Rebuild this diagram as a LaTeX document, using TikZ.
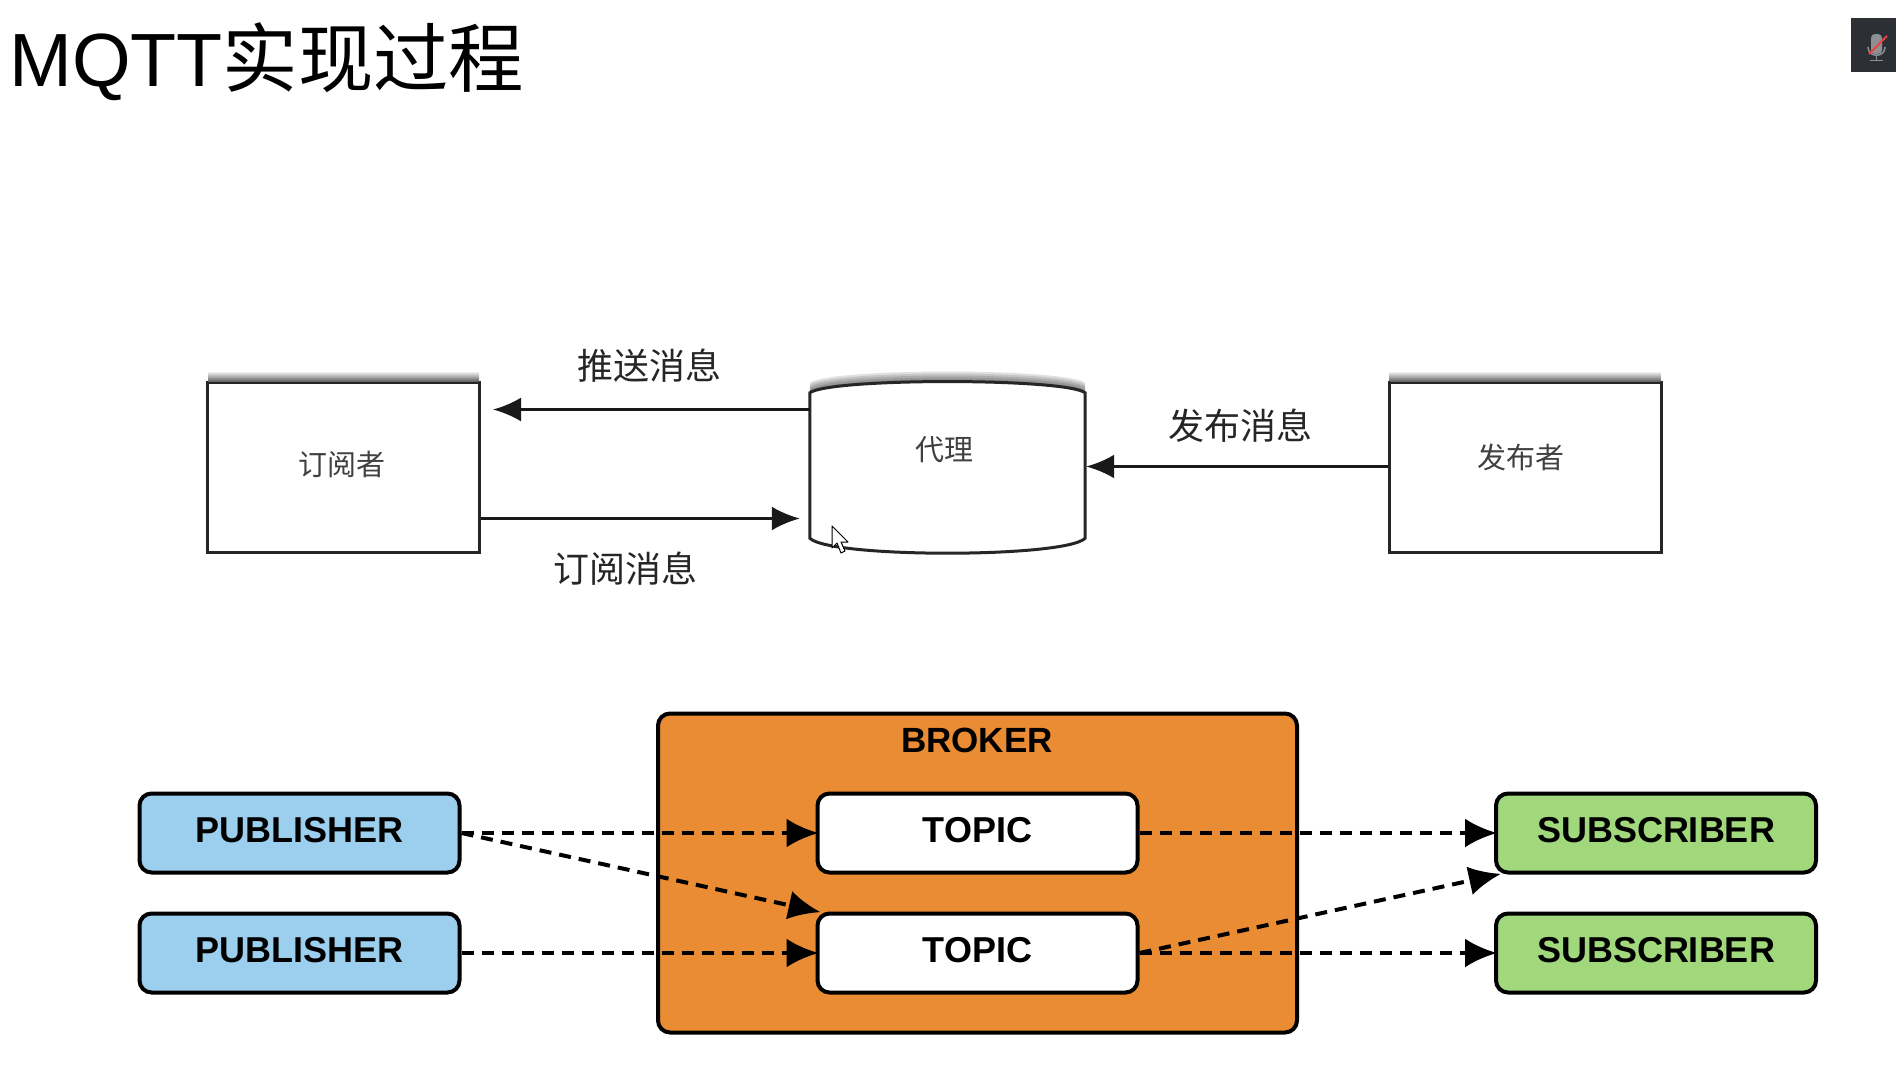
\documentclass[tikz,border=0pt]{standalone}
\usepackage{fontspec}
\setmainfont{Liberation Sans}
\newfontfamily\cjk{Noto Sans CJK SC}
\usetikzlibrary{arrows.meta, positioning}

\definecolor{brokerorange}{HTML}{E98C33}
\definecolor{pubblue}{HTML}{9CCFEE}
\definecolor{subgreen}{HTML}{A1D87C}
\definecolor{micdark}{HTML}{2C3034}
\definecolor{micgrey}{HTML}{8C9094}
\definecolor{micred}{HTML}{F04040}

\tikzset{
    plainbox/.style={draw=black!85, line width=3pt, fill=white, minimum width=272pt, minimum height=170pt, inner sep=0pt},
    zhlabel/.style={font=\cjk\fontsize{36}{40}\selectfont, text=black!85, inner sep=0pt},
    zhsmall/.style={font=\cjk\fontsize{29}{32}\selectfont, text=black!75, inner sep=0pt},
    solidarrow/.style={line width=3pt, draw=black!90, -{Latex[length=28pt,width=24pt]}},
    dasharrow/.style={line width=4pt, dash pattern=on 12pt off 8pt, shorten >=-3pt, -{Latex[length=32pt,width=29pt]}},
    roundbox/.style={draw=black, line width=4pt, rounded corners=12pt, minimum width=320pt, minimum height=79pt, inner sep=0pt, font=\fontsize{36}{40}\selectfont\bfseries},
    topshadow/.style={top color=white, bottom color=black!60, draw=none},
}

\begin{document}
\begin{tikzpicture}[x=1pt, y=-1pt]
    \useasboundingbox (0,0) rectangle (1896,1084);

    \node[anchor=base west, inner sep=0pt, font=\fontsize{75.4}{80}\selectfont] (title) at (9,86) {MQTT{\cjk 实现过程}};

    % mic icon
    \fill[micdark] (1851,18) rectangle (1896,72);
    \fill[micgrey, rounded corners=4pt] (1871,34) rectangle (1882,54);
    \draw[micgrey, line width=1.5pt] (1868,47) .. controls (1868,58) and (1885,58) .. (1885,47);
    \draw[micgrey, line width=1.5pt] (1876.5,56) -- (1876.5,60) (1870,60.5) -- (1883,60.5);
    \draw[micred, line width=1.8pt] (1869,54) -- (1887,36);

    % top diagram
    \node[plainbox] (subbox) at (343.5,467.5) {};
    \node[plainbox] (pubbox) at (1525,467.5) {};
    \node[minimum width=275pt, minimum height=171pt, inner sep=0pt] (proxy) at (947.5,467.5) {};

    \shade[topshadow] ([xshift=2pt,yshift=10pt]subbox.north west) rectangle ([xshift=-2pt]subbox.north east);
    \shade[topshadow] ([xshift=2pt,yshift=10pt]pubbox.north west) rectangle ([xshift=-2pt]pubbox.north east);
    \foreach \d in {2,4,...,10} {
        \fill[black, opacity=.12] ([yshift=-11pt+\d pt]proxy.north west) .. controls ([xshift=20pt,yshift=4pt+\d pt]proxy.north west) and ([xshift=-20pt,yshift=4pt+\d pt]proxy.north east) .. ([yshift=-11pt+\d pt]proxy.north east) -- ([yshift=-20pt]proxy.north east) -- ([yshift=-20pt]proxy.north west) -- cycle;
    }
    \draw[draw=black!85, line width=3pt, fill=white] ([yshift=-11pt]proxy.north west) .. controls ([xshift=20pt,yshift=4pt]proxy.north west) and ([xshift=-20pt,yshift=4pt]proxy.north east) .. ([yshift=-11pt]proxy.north east) -- ([yshift=15pt]proxy.south east) .. controls ([xshift=-20pt,yshift=-5pt]proxy.south east) and ([xshift=20pt,yshift=-5pt]proxy.south west) .. ([yshift=15pt]proxy.south west) -- cycle;

    \node[zhsmall] (sublabel) at (342,464) {订阅者};
    \node[zhsmall] (proxylabel) at (944,450) {代理};
    \node[zhsmall] (publabel) at (1521,457) {发布者};
    \node[zhlabel] (pushlabel) at (649,366) {推送消息};
    \node[zhlabel] (sublinelabel) at (625,569) {订阅消息};
    \node[zhlabel] (publinelabel) at (1240,426) {发布消息};

    \draw[solidarrow, shorten >=12pt] ([yshift=58pt]proxy.west) -- ([yshift=58pt]subbox.east);
    \draw[solidarrow, shorten >=10pt] ([yshift=-51pt]subbox.east) -- ([yshift=-51pt]proxy.west);
    \draw[solidarrow, shorten >=1pt] ([yshift=1pt]pubbox.west) -- ([yshift=1pt]proxy.east);

    % cursor
    \draw[black, fill=white, line width=1pt, line join=round] (832,526) -- (832,548) -- (837,543) -- (841,553) -- (845,551) -- (841,542) -- (848,542) -- cycle;

    % bottom diagram
    \node[roundbox, fill=brokerorange, minimum width=639pt, minimum height=319pt] (broker) at (977.5,873) {};
    \node[font=\fontsize{35}{38}\selectfont\bfseries, inner sep=0pt] (brokerlabel) at (977,740) {BROKER};

    \node[roundbox, fill=white] (topicone) at (977.5,833) {\raisebox{6pt}{TOPIC}};
    \node[roundbox, fill=white] (topictwo) at (977.5,953) {\raisebox{6pt}{TOPIC}};
    \node[roundbox, fill=pubblue] (pubone) at (299.5,833) {\raisebox{6pt}{PUBLISHER}};
    \node[roundbox, fill=pubblue] (pubtwo) at (299.5,953) {\raisebox{6pt}{PUBLISHER}};
    \node[roundbox, fill=subgreen] (subone) at (1656,833) {\raisebox{6pt}{SUBSCRIBER}};
    \node[roundbox, fill=subgreen] (subtwo) at (1656,953) {\raisebox{6pt}{SUBSCRIBER}};

    \draw[dasharrow] (pubone.east) -- (topicone.west);
    \draw[dasharrow] (pubone.east) -- ([xshift=2pt]topictwo.north west);
    \draw[dasharrow] (pubtwo.east) -- (topictwo.west);
    \draw[dasharrow] (topicone.east) -- (subone.west);
    \draw[dasharrow] (topictwo.east) -- ([xshift=4pt]subone.south west);
    \draw[dasharrow] (topictwo.east) -- (subtwo.west);
\end{tikzpicture}
\end{document}
